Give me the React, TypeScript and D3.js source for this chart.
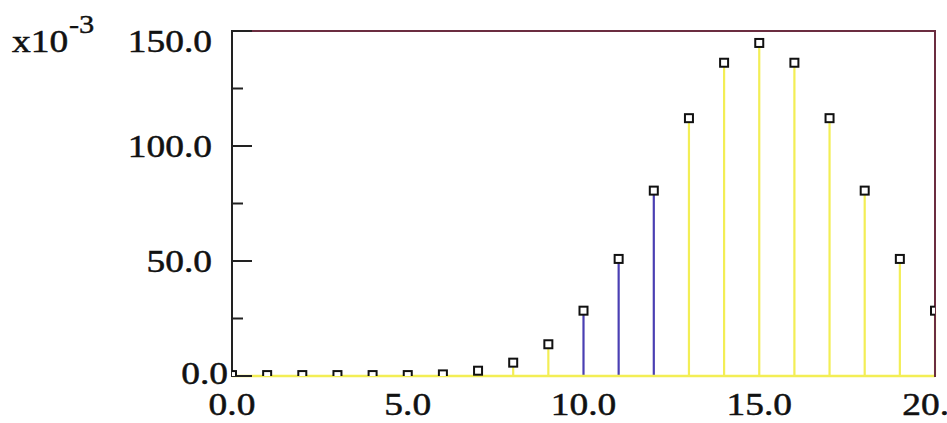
import React from "react";
import { scaleLinear, format } from "d3";

// x10^-3 probabilities, k = 0..20
const kValues = [0, 1, 2, 3, 4, 5, 6, 7, 8, 9, 10, 11, 12, 13, 14, 15, 16, 17, 18, 19, 20];
const probValues = [0.4, 0.4, 0.4, 0.4, 0.4, 0.4, 0.7, 2.3, 5.8, 13.8, 28.4, 50.9, 80.6, 112.1, 136.2, 144.8, 136.2, 112.1, 80.6, 50.9, 28.4];
const highlighted = [10, 11, 12];
const yTickValues = [0, 50, 100, 150];
const yMinorTicks = [25, 75, 125];
const xTickValues = [0, 5, 10, 15, 20];

const W = 947;
const H = 423;
const left = 232, right = 935, top = 31, bottom = 376;
const FONT = "'Liberation Serif', 'Times New Roman', serif";
const STRETCH = 1.17;

const App = () => {
  const x = scaleLinear().domain([0, 20]).range([left, right]);
  const y = scaleLinear().domain([0, 150]).range([bottom, top]);
  const fmt = format(".1f");

  const yellow = "#f3ee55";
  const blue = "#4a3fb3";
  const maroon = "#6b2d40";
  const ink = "#111";

  return (
    <svg
      width={W}
      height={H}
      style={{ position: "absolute", left: 0, top: 0, background: "#fff" }}
    >
      <defs>
        <clipPath id="plot">
          <rect x={left} y={top - 6} width={right - left} height={bottom - top + 6} />
        </clipPath>
      </defs>

      {/* stems */}
      {kValues.map((k, i) => (
        <line
          key={"s" + k}
          x1={x(k)}
          x2={x(k)}
          y1={y(0)}
          y2={y(probValues[i])}
          stroke={highlighted.includes(k) ? blue : yellow}
          strokeWidth={2.2}
        />
      ))}

      {/* baseline */}
      <line x1={left} x2={right} y1={y(0)} y2={y(0)} stroke={yellow} strokeWidth={2.5} />

      {/* frame */}
      <line x1={left} x2={right + 1} y1={top} y2={top} stroke={maroon} strokeWidth={2} />
      <line x1={right} x2={right} y1={top} y2={bottom + 1} stroke={maroon} strokeWidth={2} />
      <line x1={left} x2={left} y1={top - 1} y2={bottom + 1} stroke="#222" strokeWidth={2} />

      {/* y ticks */}
      {yTickValues.map((v) => (
        <line key={"t" + v} x1={left} x2={left + 20} y1={y(v)} y2={y(v)} stroke="#222" strokeWidth={2} />
      ))}
      {yMinorTicks.map((v) => (
        <line key={"m" + v} x1={left} x2={left + 11} y1={y(v)} y2={y(v)} stroke="#222" strokeWidth={2} />
      ))}

      {/* markers */}
      <g clipPath="url(#plot)">
        {kValues.map((k, i) => (
          <rect
            key={"p" + k}
            x={x(k) - 4}
            y={y(probValues[i]) - 4}
            width={8}
            height={8}
            fill="#fff"
            stroke={ink}
            strokeWidth={2}
          />
        ))}
      </g>

      {/* y labels */}
      {yTickValues.map((v) => {
        const cy = Math.min(Math.max(y(v), top + 10), bottom - 3);
        const ex = v === 0 ? 228 : 212;
        return (
          <text
            key={"yl" + v}
            transform={`translate(${ex},${cy + 11}) scale(${STRETCH},1)`}
            textAnchor="end"
            fontFamily={FONT}
            fontSize={32}
            fill={ink}
            stroke={ink}
            strokeWidth={0.5}
          >
            {fmt(v)}
          </text>
        );
      })}

      {/* x labels */}
      {xTickValues.map((v) => (
        <text
          key={"xl" + v}
          transform={`translate(${x(v)},415) scale(${STRETCH},1)`}
          textAnchor="middle"
          fontFamily={FONT}
          fontSize={32}
          fill={ink}
          stroke={ink}
          strokeWidth={0.5}
        >
          {fmt(v)}
        </text>
      ))}

      {/* exponent */}
      <text
        transform={`translate(12,52) scale(${STRETCH},1)`}
        fontFamily={FONT}
        fontSize={32}
        fill={ink}
        stroke={ink}
        strokeWidth={0.5}
      >
        x10
      </text>
      <text
        transform={`translate(69,33) scale(${STRETCH},1)`}
        fontFamily={FONT}
        fontSize={26}
        fill={ink}
        stroke={ink}
        strokeWidth={0.4}
      >
        -3
      </text>
    </svg>
  );
};

export default App;
